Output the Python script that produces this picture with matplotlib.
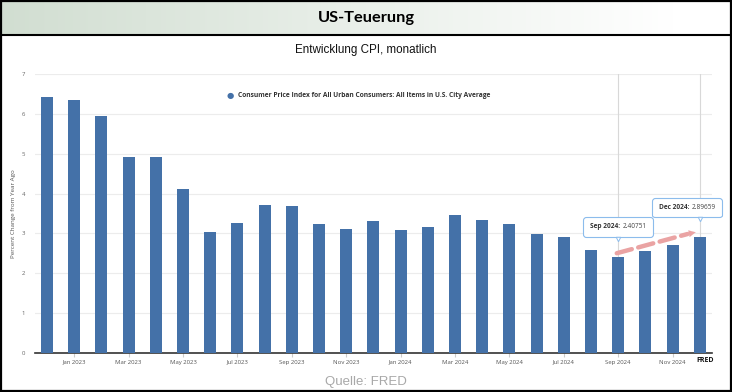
import numpy as np
import matplotlib
matplotlib.use("Agg")
import matplotlib.pyplot as plt
from matplotlib.patches import Rectangle
from matplotlib import transforms
from matplotlib.offsetbox import TextArea, HPacker, AnnotationBbox

months = ["Dec 2022", "Jan 2023", "Feb 2023", "Mar 2023", "Apr 2023", "May 2023", "Jun 2023",
          "Jul 2023", "Aug 2023", "Sep 2023", "Oct 2023", "Nov 2023", "Dec 2023",
          "Jan 2024", "Feb 2024", "Mar 2024", "Apr 2024", "May 2024", "Jun 2024",
          "Jul 2024", "Aug 2024", "Sep 2024", "Oct 2024", "Nov 2024", "Dec 2024"]
values = [6.42, 6.35, 5.96, 4.93, 4.93, 4.11, 3.02, 3.26, 3.70, 3.69, 3.23, 3.12, 3.31,
          3.08, 3.15, 3.46, 3.34, 3.23, 2.97, 2.91, 2.58, 2.40751, 2.56, 2.71, 2.89659]
tick_labels = ["Jan 2023", "Mar 2023", "May 2023", "Jul 2023", "Sep 2023", "Nov 2023",
               "Jan 2024", "Mar 2024", "May 2024", "Jul 2024", "Sep 2024", "Nov 2024"]
yticks = [0, 1, 2, 3, 4, 5, 6, 7]
series_name = "Consumer Price Index for All Urban Consumers: All Items in U.S. City Average"
highlights = ["Sep 2024", "Dec 2024"]

W, H = 732, 392
fig = plt.figure(figsize=(W / 100, H / 100), dpi=100)
fig.patch.set_facecolor('white')

# Title band with gradient
tb = fig.add_axes([0, 1 - 34 / H, 1, 34 / H])
grad = np.linspace(0, 1, 256)
grad = np.clip(grad / 0.92, 0, 1)
left = np.array([0.82, 0.87, 0.82])
right = np.array([1.0, 1.0, 1.0])
img = left[None, :] * (1 - grad[:, None]) + right[None, :] * grad[:, None]
tb.imshow(img[None, :, :], aspect='auto', extent=[0, 1, 0, 1])
tb.set_xlim(0, 1); tb.set_ylim(0, 1)
tb.axis('off')
fig.text(0.5, 1 - 18 / H, "US-Teuerung", ha='center', va='center', fontsize=11.8,
         fontweight='bold', family=['Lato', 'DejaVu Sans'], color='black')
fig.add_artist(plt.Line2D([0, 1], [1 - 34.5 / H, 1 - 34.5 / H], color='black', lw=1.5))
fig.text(0.5, 1 - 50 / H, "Entwicklung CPI, monatlich", ha='center', va='center', fontsize=8.4,
         family=['Liberation Sans', 'DejaVu Sans'], color='#111111')
fig.text(0.5, 1 - 382 / H, "Quelle: FRED", ha='center', va='center', fontsize=9.5,
         family=['Liberation Sans', 'DejaVu Sans'], color='#a8a8a8')

# main axes
ax = fig.add_axes([35 / W, 1 - 352.6 / H, (712 - 35) / W, (352.6 - 74.2) / H])
x = np.arange(len(months))
ax.set_axisbelow(True)
ax.bar(x, values, width=0.44, color='#4471a8', zorder=3)
ax.set_xlim(-0.44, len(months) - 1 + 0.45)
ax.set_ylim(0, 7)
ax.set_yticks(yticks)
ax.set_yticklabels([str(t) for t in yticks], fontsize=4.3, color='#666666', family='Open Sans')
ax.tick_params(axis='y', length=0, pad=7)
ax.grid(axis='y', color='#ececec', lw=0.8)
tpos = [months.index(t) for t in tick_labels]
ax.set_xticks(tpos)
ax.set_xticklabels(tick_labels, fontsize=4.3, color='#555555', family='Open Sans')
ax.tick_params(axis='x', length=3, color='#cccccc', pad=2)
for s in ['top', 'right', 'left']:
    ax.spines[s].set_visible(False)
ax.spines['bottom'].set_color('#333333')
ax.spines['bottom'].set_linewidth(1.2)
ax.set_ylabel("Percent Change from Year Ago", fontsize=4.5, color='#555555',
              family='Open Sans', labelpad=4)

# crosshair lines
for h in highlights:
    ax.axvline(months.index(h), color='#d8d8d8', lw=0.8, zorder=1)

# legend
ax.text(0.288, 0.925, "\u25CF", transform=ax.transAxes, fontsize=6, color='#4471a8',
        va='center', ha='center', family='DejaVu Sans')
ax.text(0.3, 0.925, series_name, transform=ax.transAxes, fontsize=4.75, color='#333333',
        fontweight='bold', va='center', ha='left', family='Open Sans')

# arrow
i_s, i_d = months.index("Sep 2024"), months.index("Dec 2024")
ax.annotate("", xy=(i_d - 0.35, 3.0), xytext=(i_s - 0.15, 2.48),
            arrowprops=dict(arrowstyle='-', color='#eaa3a3', lw=3.2, linestyle=(0, (3.5, 1.5))),
            zorder=5)
ax.annotate("", xy=(i_d - 0.05, 3.04), xytext=(i_d - 0.4, 2.99),
            arrowprops=dict(arrowstyle='-|>', color='#eaa3a3', lw=0.1, mutation_scale=12),
            zorder=5)

# tooltips
for h, dx in [("Sep 2024", 0), ("Dec 2024", -9)]:
    i = months.index(h)
    v = values[i]
    t1 = TextArea(h + ":", textprops=dict(fontsize=4.7, fontweight='bold', color='#333333',
                                          family='Open Sans'))
    t2 = TextArea(f"{v:.5f}", textprops=dict(fontsize=4.7, color='#444444', family='Open Sans'))
    box = HPacker(children=[t1, t2], pad=0, sep=2)
    ab = AnnotationBbox(box, (i, v), xybox=(dx, 21.5), xycoords='data',
                        boxcoords='offset points', frameon=True, pad=0.45,
                        bboxprops=dict(boxstyle='round,pad=0.45,rounding_size=0.2', fc='white',
                                       ec='#8cbcec', lw=0.8), zorder=6)
    ax.add_artist(ab)
    tr = transforms.offset_copy(ax.transData, fig=fig, x=0, y=13.0, units='points')
    ax.plot([i], [v], marker='v', ms=3.2, mfc='white', mec='#8cbcec', mew=0.7,
            transform=tr, zorder=7, clip_on=False)

# FRED logo text
fig.text(705 / W, 1 - 361 / H, "FRED", ha='center', va='center', fontsize=5,
         fontweight='bold', family='Open Sans', color='#111111')

# outer border
fig.add_artist(Rectangle((0.001, 0.002), 0.997, 0.996, transform=fig.transFigure,
                         fill=False, ec='black', lw=1.6))

fig.savefig("out.png", dpi=100)
